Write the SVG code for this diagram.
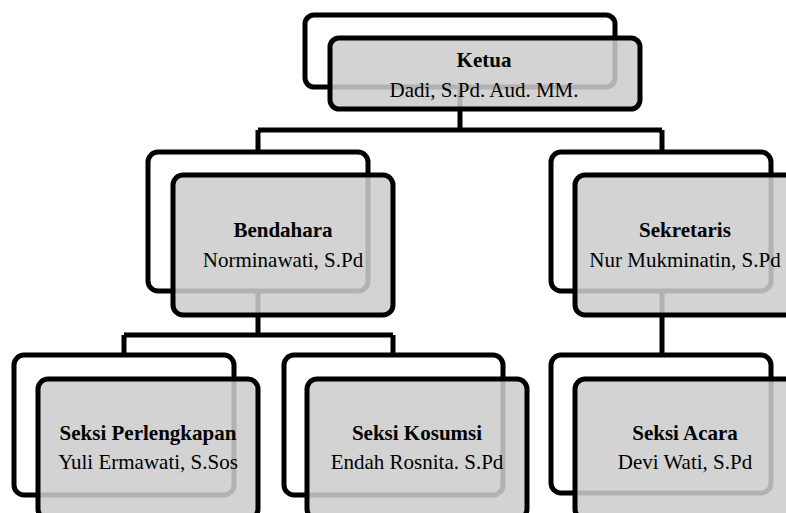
<svg xmlns="http://www.w3.org/2000/svg" width="786" height="513" viewBox="0 0 786 513">
<style>
.back{fill:none;stroke:#000;stroke-width:5}
.front{fill:#cdcdcd;fill-opacity:0.87;stroke:#000;stroke-width:5}
.conn{fill:none;stroke:#000;stroke-width:5}
.t{font-family:"Liberation Serif","Times New Roman",serif;font-size:21px;text-anchor:middle;fill:#000}
.b{font-weight:bold}
</style>
<rect width="786" height="513" fill="#fff"/>
<g id="connectors">
<path class="conn" d="M460,87 V130 M258,130 H662 M258,130 V152 M662,130 V152"/>
<path class="conn" d="M258,291 V335 M124,335 H393 M124,335 V355 M393,335 V355"/>
<path class="conn" d="M662,291 V355"/>
</g>
<g id="ketua">
<rect class="back" x="305" y="15" width="310" height="72" rx="9"/>
<rect class="front" x="330" y="38" width="310" height="71" rx="9"/>
<text class="t b" x="484" y="67">Ketua</text>
<text class="t" x="484" y="97">Dadi, S.Pd. Aud. MM.</text>
</g>
<g id="bendahara">
<rect class="back" x="148" y="152" width="220" height="139" rx="10"/>
<rect class="front" x="173" y="175" width="220" height="140" rx="10"/>
<text class="t b" x="283" y="237">Bendahara</text>
<text class="t" x="283" y="267">Norminawati, S.Pd</text>
</g>
<g id="sekretaris">
<rect class="back" x="551" y="152" width="220" height="139" rx="10"/>
<rect class="front" x="575" y="175" width="220" height="140" rx="10"/>
<text class="t b" x="685" y="237">Sekretaris</text>
<text class="t" x="685" y="267">Nur Mukminatin, S.Pd</text>
</g>
<g id="perlengkapan">
<rect class="back" x="14" y="355" width="220" height="140" rx="10"/>
<rect class="front" x="38" y="379" width="220" height="140" rx="10"/>
<text class="t b" x="148" y="440">Seksi Perlengkapan</text>
<text class="t" x="148" y="469">Yuli Ermawati, S.Sos</text>
</g>
<g id="kosumsi">
<rect class="back" x="284" y="355" width="219" height="140" rx="10"/>
<rect class="front" x="307" y="379" width="220" height="140" rx="10"/>
<text class="t b" x="417" y="440">Seksi Kosumsi</text>
<text class="t" x="417" y="469">Endah Rosnita. S.Pd</text>
</g>
<g id="acara">
<rect class="back" x="551" y="355" width="220" height="138" rx="10"/>
<rect class="front" x="575" y="379" width="220" height="140" rx="10"/>
<text class="t b" x="685" y="440">Seksi Acara</text>
<text class="t" x="685" y="469">Devi Wati, S.Pd</text>
</g>
</svg>
